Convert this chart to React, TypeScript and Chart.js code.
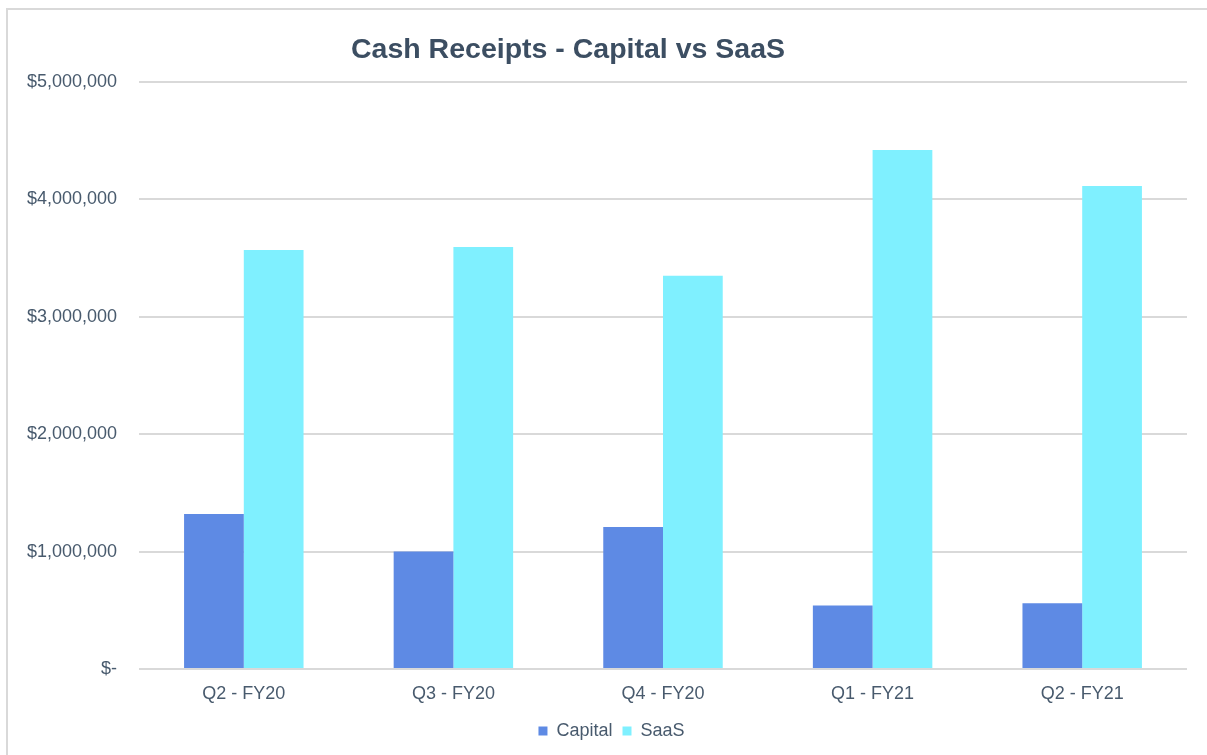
import React, { useEffect, useRef } from "react";
import { Chart, registerables } from "chart.js";

Chart.register(...registerables);

const categories = ["Q2 - FY20", "Q3 - FY20", "Q4 - FY20", "Q1 - FY21", "Q2 - FY21"];
const capitalValues = [1320000, 1000000, 1210000, 540000, 560000];
const saasValues = [3570000, 3595000, 3350000, 4420000, 4115000];
const yTickValues = [0, 1000000, 2000000, 3000000, 4000000, 5000000];
const chartTitle = "Cash Receipts - Capital vs SaaS";

const FONT = '"Liberation Sans", Arial, Helvetica, sans-serif';
const TEXT = "#485a6d";
const TITLE = "#3c4e62";
const GRID = "#d9d9d9";

function formatMoney(v: number): string {
  if (v === 0) return "$-";
  return "$" + v.toLocaleString("en-US");
}

const titlePlugin = {
  id: "offsetTitle",
  afterLayout(chart: any) {
    const lg = chart.legend;
    if (lg) {
      lg.left += 14;
      lg.right += 14;
    }
  },
  afterDraw(chart: any) {
    const ctx = chart.ctx;
    ctx.save();
    ctx.font = `bold 28.5px ${FONT}`;
    ctx.fillStyle = TITLE;
    ctx.textAlign = "center";
    ctx.textBaseline = "alphabetic";
    ctx.fillText(chartTitle, chart.chartArea.left + 429, 48);
    ctx.restore();
  },
};

export default function App() {
  const ref = useRef<HTMLCanvasElement | null>(null);

  useEffect(() => {
    if (!ref.current) return;
    Chart.defaults.font.family = FONT;
    const chart = new Chart(ref.current, {
      type: "bar",
      data: {
        labels: categories,
        datasets: [
          {
            label: "Capital",
            data: capitalValues,
            backgroundColor: "#5e8ae4",
            categoryPercentage: 0.57,
            barPercentage: 1,
          },
          {
            label: "SaaS",
            data: saasValues,
            backgroundColor: "#7ff0ff",
            categoryPercentage: 0.57,
            barPercentage: 1,
          },
        ],
      },
      plugins: [titlePlugin],
      options: {
        animation: false,
        responsive: false,
        maintainAspectRatio: false,
        layout: { padding: { top: 72, right: 20, bottom: 5, left: 0 } },
        plugins: {
          title: { display: false },
          tooltip: { enabled: false },
          legend: {
            position: "bottom",
            labels: {
              boxWidth: 9,
              boxHeight: 9,
              padding: 10,
              color: TEXT,
              font: { size: 18, family: FONT },
            },
          },
        },
        scales: {
          x: {
            grid: { display: false, drawTicks: false },
            border: { display: false },
            ticks: { color: TEXT, font: { size: 18, family: FONT }, padding: 14 },
            afterFit(scale: any) {
              scale.height = 43;
            },
          },
          y: {
            min: 0,
            max: 5000000,
            afterBuildTicks(scale: any) {
              scale.ticks = yTickValues.map((v) => ({ value: v }));
            },
            grid: { color: GRID, lineWidth: 2, drawTicks: false },
            border: { display: false },
            ticks: {
              color: TEXT,
              font: { size: 18, family: FONT },
              padding: 22,
              callback: (v: any) => formatMoney(Number(v)),
            },
            afterFit(scale: any) {
              scale.width = 131;
            },
          },
        },
      },
    } as any);
    return () => chart.destroy();
  }, []);

  return (
    <div
      style={{
        position: "fixed",
        left: 6,
        top: 8,
        width: 1199,
        height: 745,
        borderLeft: `2px solid ${GRID}`,
        borderTop: `2px solid ${GRID}`,
        background: "#fff",
      }}
    >
      <canvas ref={ref} width={1199} height={745} style={{ display: "block" }} />
    </div>
  );
}
